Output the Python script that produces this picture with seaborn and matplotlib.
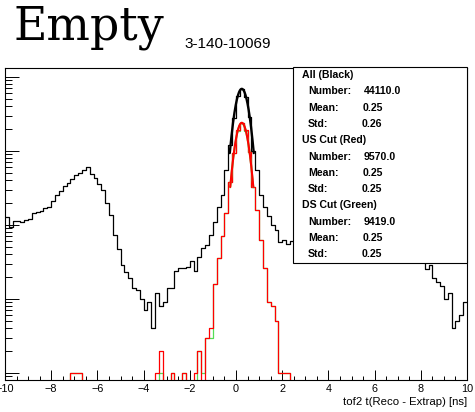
import numpy as np
import pandas as pd
import matplotlib
matplotlib.use('Agg')
import matplotlib.pyplot as plt
import seaborn as sns
from matplotlib.patches import Rectangle
from matplotlib.ticker import MultipleLocator, LogLocator

# canvas size in pixels (dpi 100)
W, H = 475, 412

# histogram binning: 120 bins of 1/6 ns
x_lo, x_hi, n_bins = -10, 10, 120

# counts per bin (log scale)
black_counts = [
    127, 93, 114, 112, 111, 115, 121, 144, 150, 155, 168, 177,
    210, 255, 290, 338, 365, 420, 465, 510, 555, 615, 490, 425,
    355, 298, 196, 134, 73, 47, 29, 23, 19, 14, 13, 10,
    7, 9, 4, 12, 8, 9, 14, 14, 24, 26, 26, 27,
    32, 24, 37, 48, 54, 73, 110, 177, 255, 555, 1200, 2800,
    5500, 6900, 5400, 2900, 1000, 555, 255, 177, 130, 100, 86, 59,
    63, 55, 60, 58, 65, 70, 72, 80, 85, 95, 100, 110,
    120, 135, 150, 165, 180, 200, 215, 230, 240, 250, 245, 235,
    215, 190, 165, 140, 115, 95, 80, 65, 55, 48, 42, 38,
    35, 25, 29, 19, 17, 15, 10, 12, 4, 5, 6, 9,
]
red_counts = [
    0, 0, 0, 0, 0, 0, 0, 0, 0, 0, 0, 0,
    0, 0, 0, 0, 0, 1, 1, 1, 0, 0, 0, 0,
    0, 0, 0, 0, 0, 0, 0, 0, 0, 0, 0, 0,
    0, 0, 0, 1, 2, 0, 0, 1, 0, 0, 1, 0,
    0, 1, 2, 0, 3, 4, 16, 36, 70, 144, 380, 950,
    1900, 2400, 1900, 980, 330, 160, 63, 26, 9, 8, 5, 1,
    1, 1, 0, 0, 0, 0, 0, 0, 0, 0, 0, 0,
    0, 0, 0, 0, 0, 0, 0, 0, 0, 0, 0, 0,
    0, 0, 0, 0, 0, 0, 0, 0, 0, 0, 0, 0,
    0, 0, 0, 0, 0, 0, 0, 0, 0, 0, 0, 0,
]
green_counts = [
    0, 0, 0, 0, 0, 0, 0, 0, 0, 0, 0, 0,
    0, 0, 0, 0, 0, 1, 1, 1, 0, 0, 0, 0,
    0, 0, 0, 0, 0, 0, 0, 0, 0, 0, 0, 0,
    0, 0, 0, 0, 1, 0, 0, 1, 0, 0, 1, 0,
    0, 0, 2, 1, 3, 3, 16, 36, 70, 144, 380, 950,
    1880, 2380, 1880, 970, 330, 160, 63, 26, 9, 8, 5, 1,
    1, 1, 0, 0, 0, 0, 0, 0, 0, 0, 0, 0,
    0, 0, 0, 0, 0, 0, 0, 0, 0, 0, 0, 0,
    0, 0, 0, 0, 0, 0, 0, 0, 0, 0, 0, 0,
    0, 0, 0, 0, 0, 0, 0, 0, 0, 0, 0, 0,
]

# gaussian fits: (amplitude, mean, sigma), drawn over mean +- 2 sigma
fit_black = (6900, 0.25, 0.26)
fit_green = (2380, 0.25, 0.25)
fit_red = (2400, 0.25, 0.25)

# stats box text
stats_groups = ['All (Black)', 'US Cut (Red)', 'DS Cut (Green)']
stats_number = ['44110.0', '9570.0', '9419.0']
stats_mean = ['0.25', '0.25', '0.25']
stats_std = ['0.26', '0.25', '0.25']

title_main = 'Empty'
title_sub = '3-140-10069'
x_label = 'tof2 t(Reco - Extrap) [ns]'

sns.set_style('ticks')
plt.rcParams['font.family'] = ['Liberation Sans', 'DejaVu Sans']
plt.rcParams['text.color'] = 'black'
plt.rcParams['xtick.color'] = 'black'
plt.rcParams['ytick.color'] = 'black'


def fx(px):
    return px / W


def fy(py):
    return 1 - py / H


fig = plt.figure(figsize=(W / 100, H / 100), dpi=100)
fig.patch.set_facecolor('white')
ax = fig.add_axes([fx(5), fy(380), (467 - 5) / W, (380 - 68) / H])

bw = (x_hi - x_lo) / n_bins
centers = x_lo + bw * (np.arange(n_bins) + 0.5)

for counts, col in [(black_counts, 'black'), (green_counts, '#55dd55'), (red_counts, '#ff0000')]:
    df = pd.DataFrame({'t': centers, 'n': counts})
    sns.histplot(data=df, x='t', weights='n', binwidth=bw, binrange=(x_lo, x_hi),
                 element='step', fill=False, color=col, linewidth=0.9, ax=ax)

for (amp, mu, sig), col, lw in [(fit_black, 'black', 1.7), (fit_green, '#55dd55', 1.4), (fit_red, '#ff0000', 1.5)]:
    xs = np.linspace(mu - 2 * sig, mu + 2 * sig, 200)
    sns.lineplot(x=xs, y=amp * np.exp(-0.5 * ((xs - mu) / sig) ** 2), color=col, linewidth=lw, ax=ax)

ax.set_yscale('log')
ax.set_xlim(x_lo, x_hi)
ax.set_ylim(0.8, 13200)
ax.set_xlabel('')
ax.set_ylabel('')

ax.xaxis.set_major_locator(MultipleLocator(2))
ax.xaxis.set_minor_locator(MultipleLocator(0.5))
ax.yaxis.set_major_locator(LogLocator(base=10, numticks=20))
ax.yaxis.set_minor_locator(LogLocator(base=10, subs=np.arange(2, 10), numticks=100))
ax.tick_params(axis='x', which='major', direction='in', length=7, width=0.7, pad=3,
               labelsize=7.8, top=False)
ax.tick_params(axis='x', which='minor', direction='in', length=3, width=0.7, top=False)
ax.tick_params(axis='y', which='major', direction='in', length=10, width=0.7,
               labelleft=False, right=False)
ax.tick_params(axis='y', which='minor', direction='in', length=5, width=0.7, right=False)
for sp in ax.spines.values():
    sp.set_linewidth(0.8)
    sp.set_color('black')

fig.text(fx(467), fy(405), x_label, ha='right', va='baseline', fontsize=8.2)

# title
fig.text(fx(13), fy(39.5), title_main, family=['DejaVu Serif', 'Liberation Serif'],
         fontsize=33, va='baseline')
fig.text(fx(184), fy(47.7), title_sub, fontsize=11, va='baseline')

# stats box
box = Rectangle((fx(293), fy(263)), (467 - 293) / W, (263 - 67) / H,
                transform=fig.transFigure, facecolor='white', edgecolor='black',
                linewidth=0.8, zorder=10)
fig.add_artist(box)

line_y = 75
step = 16.3
for i, grp in enumerate(stats_groups):
    y0 = line_y + 4 * step * i
    fig.text(fx(302), fy(y0), grp, fontsize=7.6, weight='bold', va='center', zorder=11)
    rows = [('Number:', stats_number[i], 364), ('Mean:', stats_mean[i], 363),
            ('Std:', stats_std[i], 361.5)]
    for j, (lab, val, vx) in enumerate(rows):
        yy = y0 + step * (j + 1)
        fig.text(fx(308), fy(yy), lab, fontsize=7.6, weight='bold', va='center', zorder=11)
        fig.text(fx(vx), fy(yy), val, fontsize=7.6, weight='bold', va='center', zorder=11)

fig.savefig('out.png', dpi=100)
plt.close(fig)
